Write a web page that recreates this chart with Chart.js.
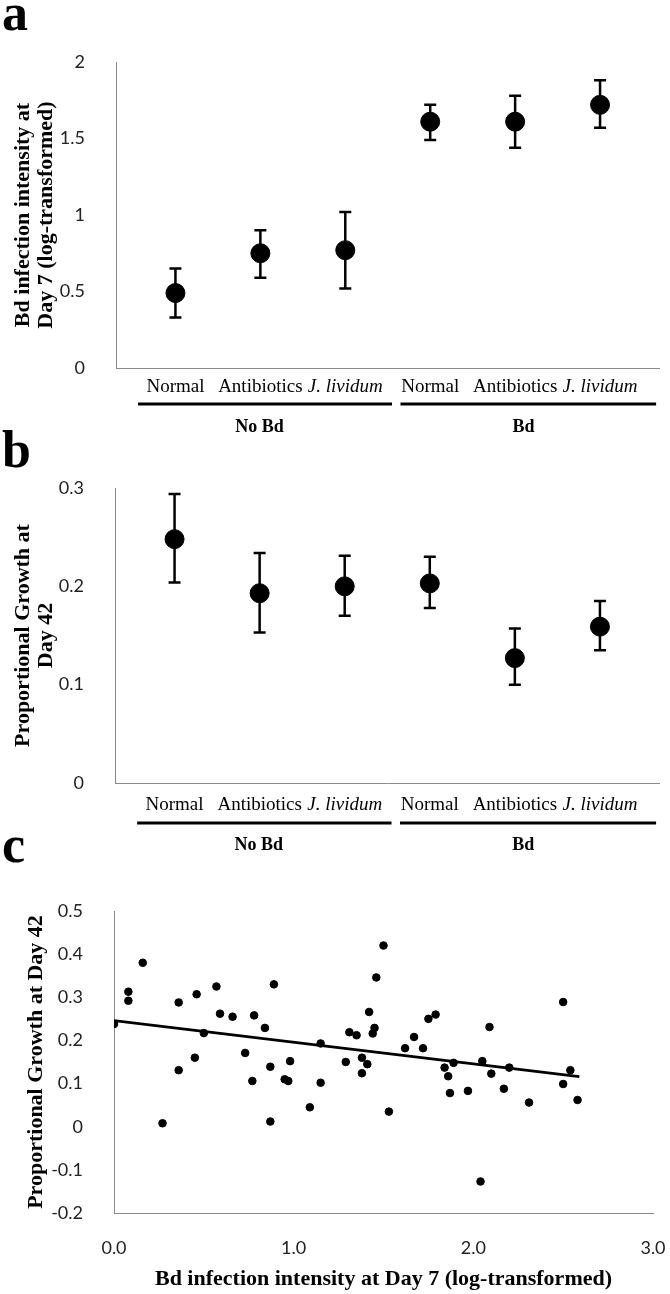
<!DOCTYPE html>
<html lang="en">
<head>
<meta charset="UTF-8">
<title>Bd infection intensity and growth</title>
<script src="https://cdn.jsdelivr.net/npm/chart.js"></script>
<style>
  body { margin: 0; background: #fff; }
  #page { position: relative; width: 670px; height: 1294px; overflow: hidden; }
  .panel { position: absolute; left: 0; }
  .letter { position: absolute; left: 2px; font: bold 52px/1 'Liberation Serif', serif; color: #000; z-index: 2; }
</style>
</head>
<body>
<div id="page">
  <div class="letter" style="top:-13px">a</div>
  <div class="letter" style="top:424px">b</div>
  <div class="letter" style="top:819px">c</div>

  <canvas id="panelA" class="panel" style="top:0" width="670" height="440"></canvas>
  <canvas id="panelB" class="panel" style="top:440px" width="670" height="420"></canvas>
  <canvas id="panelC" class="panel" style="top:860px" width="670" height="434"></canvas>
</div>

<script>
// categories on the x axis of panels a and b
const categories = ['Normal', 'Antibiotics', 'J. lividum', 'Normal', 'Antibiotics', 'J. lividum'];
const groupNames = ['No Bd', 'Bd'];
const groupSpans = [[-0.44, 2.55], [2.65, 5.66]];
const groupCenters = [0.99, 4.1];

// panel a: Bd infection intensity at day 7 (log)
const infectionMean = [0.49, 0.75, 0.77, 1.61, 1.61, 1.72];
const infectionLow = [0.33, 0.59, 0.52, 1.49, 1.44, 1.57];
const infectionHigh = [0.65, 0.90, 1.02, 1.72, 1.78, 1.88];

// panel b: proportional growth at day 42
const growthMean = [0.248, 0.193, 0.200, 0.203, 0.127, 0.159];
const growthLow = [0.204, 0.153, 0.170, 0.178, 0.100, 0.135];
const growthHigh = [0.294, 0.234, 0.231, 0.230, 0.157, 0.185];

// panel c: individual animals
const intensityX = [0.00, 0.08, 0.08, 0.16, 0.36, 0.36, 0.27, 0.46, 0.45, 0.50,
  0.57, 0.59, 0.66, 0.73, 0.77, 0.78, 0.84, 0.87, 0.89, 0.87,
  0.95, 0.97, 0.98, 1.09, 1.15, 1.15, 1.29, 1.31, 1.35, 1.38,
  1.41, 1.38, 1.42, 1.45, 1.44, 1.46, 1.50, 1.53, 1.62, 1.67,
  1.72, 1.75, 1.79, 1.84, 1.86, 1.87, 1.89, 1.97, 2.04, 2.05,
  2.09, 2.10, 2.17, 2.20, 2.31, 2.50, 2.50, 2.54, 2.58];
const growthY = [0.238, 0.313, 0.292, 0.380, 0.288, 0.131, 0.008, 0.307, 0.160, 0.217,
  0.325, 0.262, 0.255, 0.171, 0.106, 0.258, 0.229, 0.139, 0.330, 0.012,
  0.110, 0.106, 0.152, 0.045, 0.102, 0.193, 0.150, 0.219, 0.212, 0.160,
  0.145, 0.124, 0.266, 0.229, 0.216, 0.346, 0.420, 0.035, 0.182, 0.208,
  0.182, 0.250, 0.260, 0.137, 0.117, 0.078, 0.148, 0.083, -0.127, 0.152,
  0.231, 0.123, 0.088, 0.137, 0.056, 0.289, 0.099, 0.131, 0.062];
const trendX = [0, 2.59];
const trendY = [0.246, 0.116];

const numberFont = { family: 'Lato', size: 18 };
const titleFont = { family: 'Liberation Serif', size: 22, weight: 'bold', lineHeight: 1.05 };
const axisColor = '#8a8a8a';

Chart.defaults.animation = false;
Chart.defaults.color = '#000';

// 2, 1.5, 1, 0.5, 0 ... (no trailing zeros, no -0)
function shortNumber(v) {
    return String(Math.round(v * 100) / 100 + 0);
}

// error bars drawn under the points
const errorBars = {
    id: 'errorBars',
    beforeDatasetsDraw(chart, args, opts) {
        const { ctx, scales: { x, y } } = chart;
        ctx.save();
        ctx.strokeStyle = '#000';
        ctx.lineWidth = 2.5;
        opts.low.forEach((lo, i) => {
            const px = x.getPixelForValue(i);
            const y1 = y.getPixelForValue(lo);
            const y2 = y.getPixelForValue(opts.high[i]);
            ctx.beginPath();
            ctx.moveTo(px, y1); ctx.lineTo(px, y2);
            ctx.moveTo(px - 6, y1); ctx.lineTo(px + 6, y1);
            ctx.moveTo(px - 6, y2); ctx.lineTo(px + 6, y2);
            ctx.stroke();
        });
        ctx.restore();
    }
};

// lines + labels for No Bd / Bd under the categories
const groupBrackets = {
    id: 'groupBrackets',
    afterDraw(chart, args, opts) {
        const { ctx, chartArea, scales: { x } } = chart;
        ctx.save();
        ctx.strokeStyle = '#000';
        ctx.lineWidth = 3;
        ctx.fillStyle = '#000';
        ctx.font = 'bold 18px "Liberation Serif"';
        ctx.textAlign = 'center';
        ctx.textBaseline = 'middle';
        groupNames.forEach((name, i) => {
            const yLine = chartArea.bottom + opts.lineGap;
            ctx.beginPath();
            ctx.moveTo(x.getPixelForValue(groupSpans[i][0]), yLine);
            ctx.lineTo(x.getPixelForValue(groupSpans[i][1]), yLine);
            ctx.stroke();
            ctx.fillText(name, x.getPixelForValue(groupCenters[i]), chartArea.bottom + opts.labelGap);
        });
        ctx.restore();
    }
};

function categoryPanel(id, mean, low, high, yMax, yStep, yTitle, cfg) {
    return new Chart(document.getElementById(id), {
        type: 'scatter',
        data: {
            datasets: [{
                data: mean.map((v, i) => ({ x: i, y: v })),
                backgroundColor: '#000',
                borderColor: '#000',
                pointRadius: 9.5,
                pointHoverRadius: 9.5
            }]
        },
        options: {
            responsive: false,
            layout: { padding: { top: cfg.padTop, right: 10, left: 0, bottom: 0 } },
            plugins: {
                legend: { display: false },
                tooltip: { enabled: false },
                errorBars: { low: low, high: high },
                groupBrackets: { lineGap: cfg.lineGap, labelGap: cfg.labelGap }
            },
            scales: {
                x: {
                    type: 'linear',
                    min: -0.7,
                    max: 5.7,
                    grid: { display: false },
                    border: { color: axisColor, width: 1 },
                    afterBuildTicks: (scale) => { scale.ticks = categories.map((c, i) => ({ value: i })); },
                    afterFit: (scale) => { scale.height = cfg.xHeight; },
                    ticks: {
                        autoSkip: false,
                        maxRotation: 0,
                        padding: cfg.tickPad,
                        color: '#000',
                        callback: (v) => categories[v],
                        font: (ctx) => ({
                            family: 'Liberation Serif',
                            size: 19,
                            style: categories[ctx.index] && categories[ctx.index].startsWith('J.') ? 'italic' : 'normal'
                        })
                    }
                },
                y: {
                    min: 0,
                    max: yMax,
                    grid: { display: false },
                    border: { color: axisColor, width: 1 },
                    afterFit: (scale) => { scale.width = cfg.axisLeft; },
                    ticks: { stepSize: yStep, padding: 23, color: '#222', font: numberFont, callback: shortNumber },
                    title: { display: true, text: yTitle, font: titleFont, color: '#000', padding: { top: 12, bottom: 0 } }
                }
            }
        },
        plugins: [errorBars, groupBrackets]
    });
}

categoryPanel('panelA', infectionMean, infectionLow, infectionHigh, 2, 0.5,
    ['Bd infection intensity at', 'Day 7 (log-transformed)'],
    { padTop: 62, axisLeft: 116, xHeight: 72, tickPad: 0, lineGap: 36, labelGap: 59 });

categoryPanel('panelB', growthMean, growthLow, growthHigh, 0.3, 0.1,
    ['Proportional Growth at', 'Day 42'],
    { padTop: 48, axisLeft: 115, xHeight: 77, tickPad: 3, lineGap: 40, labelGap: 62 });

new Chart(document.getElementById('panelC'), {
    type: 'scatter',
    data: {
        datasets: [{
            data: intensityX.map((v, i) => ({ x: v, y: growthY[i] })),
            backgroundColor: '#000',
            borderColor: '#000',
            pointRadius: 3.8,
            pointHoverRadius: 3.8
        }, {
            type: 'line',
            data: trendX.map((v, i) => ({ x: v, y: trendY[i] })),
            borderColor: '#000',
            borderWidth: 2.8,
            pointRadius: 0,
            fill: false
        }]
    },
    options: {
        responsive: false,
        layout: { padding: { top: 51, right: 0, left: 0, bottom: 0 } },
        plugins: {
            legend: { display: false },
            tooltip: { enabled: false }
        },
        scales: {
            x: {
                type: 'linear',
                min: 0,
                max: 3,
                grid: { display: false },
                border: { color: axisColor, width: 1 },
                afterFit: (scale) => {
                    scale.height = 81;
                    scale.paddingLeft = 0;
                    scale.paddingRight = 17;
                },
                ticks: { stepSize: 1, padding: 16, color: '#222', font: numberFont, callback: (v) => v.toFixed(1) },
                title: {
                    display: true,
                    text: 'Bd infection intensity at Day 7 (log-transformed)',
                    font: titleFont,
                    color: '#000',
                    padding: { top: 0, bottom: 3.5 }
                }
            },
            y: {
                min: -0.2,
                max: 0.5,
                grid: { display: false },
                border: { color: axisColor, width: 1 },
                afterFit: (scale) => { scale.width = 114; },
                ticks: { stepSize: 0.1, padding: 23, color: '#222', font: numberFont, callback: shortNumber },
                title: { display: true, text: 'Proportional Growth at Day 42', font: titleFont, color: '#000', padding: { top: 25, bottom: 0 } }
            }
        }
    }
});
</script>
</body>
</html>
